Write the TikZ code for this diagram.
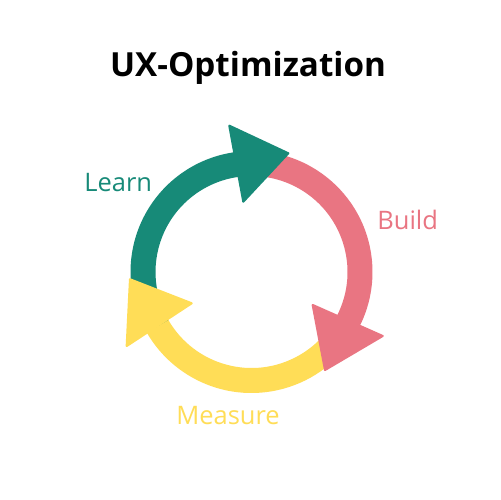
\documentclass[tikz,border=0pt]{standalone}
\usepackage{fontspec}
\setmainfont{Open Sans}
\usetikzlibrary{calc}
\definecolor{lgreen}{HTML}{178A78}
\definecolor{lpink}{HTML}{E97582}
\definecolor{lyellow}{HTML}{FFDD57}
\tikzset{
  headtri/.style={line width=1.2pt, line join=round},
  lbl/.style={anchor=base west, inner sep=0pt, font=\fontsize{14.5}{18}\selectfont},
}
\newcommand\ringband[3]{\fill[#1] ($(c)+(#2:121)$) arc[start angle=#2, end angle=#3, radius=121] -- ($(c)+(#3:96)$) arc[start angle=#3, end angle=#2, radius=96] -- cycle;}
\begin{document}
\begin{tikzpicture}[x=0.02cm,y=0.02cm]
\useasboundingbox (0,0) rectangle (500,500);
\fill[white] (0,0) rectangle (500,500);
\coordinate (c) at (251.5,228);
% bands
\ringband{lpink}{99}{-30}
\ringband{lyellow}{-27}{-153}
\ringband{lgreen}{210}{95}
% arrow heads
\filldraw[lgreen, headtri] (229.3,374.3) -- (288.3,346.7) -- (243.3,298.3) -- cycle;
\filldraw[lpink, headtri] (312.7,195) -- (382.7,164) -- (325,130) -- cycle;
\filldraw[lyellow, headtri] (130,220.7) -- (191.7,196.7) -- (126.7,154) -- cycle;
% texts
\node[anchor=base, inner sep=0pt, font=\fontsize{18.9}{22}\selectfont\bfseries] (title) at (248,423) {UX-Optimization};
\node[lbl, text=lgreen] (learn) at (84,308) {Learn};
\node[lbl, text=lpink] (build) at (377,270) {Build};
\node[lbl, text=lyellow] (measure) at (176,75) {Measure};
\end{tikzpicture}
\end{document}
